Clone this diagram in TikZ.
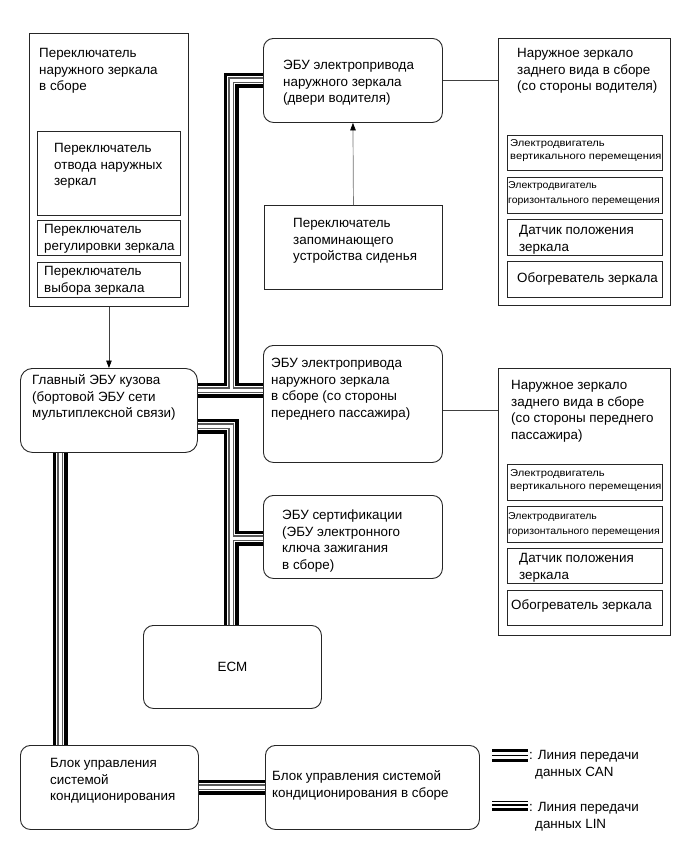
\documentclass[tikz,border=0pt]{standalone}
\usepackage{fontspec}
\setmainfont{Liberation Sans}
\newfontfamily\smallwide[FakeStretch=1.12]{Liberation Sans}
\newfontfamily\smallwideb[FakeStretch=1.05]{Liberation Sans}
\usetikzlibrary{arrows.meta,calc}
\tikzset{
  sqbox/.style={draw=black!85, line width=0.9pt, fill=white, anchor=north west, inner sep=0pt},
  rbox/.style={sqbox, rounded corners=10pt},
  txt/.style={anchor=north west, inner sep=0pt, align=left, font=\fontsize{13.4}{16.7}\selectfont},
  stxt/.style={anchor=north west, inner sep=0pt, align=left, font=\smallwide\fontsize{10}{13.5}\selectfont},
  stxtb/.style={anchor=north west, inner sep=0pt, align=left, font=\smallwideb\fontsize{10}{14.5}\selectfont},
  link/.style={draw=black!75, line width=0.7pt},
  arr/.style={link, -{Triangle[length=7.5pt,width=5.5pt,color=black]}},
  legline/.style={draw=black, line cap=butt}
}
\newcommand\buslayers[1]{%
  \draw[line width=15pt, black, line join=miter] #1;
  \draw[line width=8.5pt, white, line join=miter] #1;
  \draw[line width=5.5pt, black!65, line join=miter] #1;
  \draw[line width=3pt, white, line join=miter] #1;
}
\begin{document}
\begin{tikzpicture}[x=1pt,y=-1pt]
\fill[white] (0,0) rectangle (691,855);
\useasboundingbox (0,0) rectangle (691,855);

% ---------- boxes ----------
\node[sqbox, minimum width=159pt, minimum height=273pt] (outsw) at (29,33) {};
\node[sqbox, minimum width=143pt, minimum height=84pt] (sw1) at (37,131) {};
\node[sqbox, minimum width=143pt, minimum height=35pt] (sw2) at (37,220) {};
\node[sqbox, minimum width=143pt, minimum height=35pt] (sw3) at (37,262) {};

\node[rbox, rounded corners=12pt, minimum width=177pt, minimum height=84pt] (mainecu) at (20,368) {};
\node[rbox, minimum width=179pt, minimum height=84pt] (drvecu) at (263,38) {};
\node[sqbox, minimum width=178pt, minimum height=84pt] (seat) at (264,205) {};

\node[sqbox, minimum width=172pt, minimum height=267pt] (drvmir) at (498,38) {};
\node[sqbox, minimum width=155pt, minimum height=35pt] (dm1) at (507,135) {};
\node[sqbox, minimum width=155pt, minimum height=36pt] (dm2) at (507,177) {};
\node[sqbox, minimum width=155pt, minimum height=36pt] (dm3) at (507,219) {};
\node[sqbox, minimum width=155pt, minimum height=36pt] (dm4) at (507,261) {};

\node[rbox, minimum width=179pt, minimum height=117pt] (passecu) at (263,345) {};
\node[sqbox, minimum width=172pt, minimum height=267pt] (pasmir) at (498,368) {};
\node[sqbox, minimum width=155pt, minimum height=36pt] (pm1) at (507,464) {};
\node[sqbox, minimum width=155pt, minimum height=36pt] (pm2) at (507,506) {};
\node[sqbox, minimum width=155pt, minimum height=35pt] (pm3) at (507,548) {};
\node[sqbox, minimum width=155pt, minimum height=35pt] (pm4) at (507,590) {};

\node[rbox, minimum width=179pt, minimum height=83pt] (certecu) at (263,495) {};
\node[rbox, minimum width=178pt, minimum height=83pt, font=\fontsize{13.4}{16.7}\selectfont] (ecm) at (143,625) {ECM};
\node[rbox, minimum width=178pt, minimum height=84pt] (acblk) at (20,745) {};
\node[rbox, minimum width=214pt, minimum height=84pt] (acasm) at (265,745) {};

% ---------- bus cables ----------
\coordinate (j1) at (231,390);
\coordinate (j1t) at (231,80);
\coordinate (j2) at (231,426);
\coordinate (j3) at (231,538);
\coordinate (kx) at (60,0);
\coordinate (ky) at (0,787);

\buslayers{(mainecu.east |- j1) -- (j1) -- (j1t) -- (drvecu.west |- j1t) (j1) -- (passecu.west |- j1)}
\buslayers{(mainecu.east |- j2) -- (j2) -- (j2 |- ecm.north) (j3) -- (certecu.west |- j3)}
\buslayers{(mainecu.south -| kx) -- (acblk.north -| kx)}
\buslayers{(acblk.east |- ky) -- (acasm.west |- ky)}

% ---------- plain links ----------
\coordinate (p1) at (0,410);
\draw[arr] (outsw.south) -- (mainecu.north);
\draw[arr, draw=black!55] (seat.north) -- (drvecu.south);
\draw[link] (drvecu.east) -- (drvmir.west |- drvecu.east);
\draw[link] (passecu.east |- p1) -- (pasmir.west |- p1);

% ---------- texts ----------
\node[txt] (t-outsw) at (39,45.5) {\strut Переключатель\\наружного зеркала\\в сборе};
\node[txt] (t-sw1) at (54,140.5) {\strut Переключатель\\отвода наружных\\зеркал};
\node[txt] (t-sw2) at (44,222) {\strut Переключатель\\регулировки зеркала};
\node[txt] (t-sw3) at (44,264) {\strut Переключатель\\выбора зеркала};

\node[txt] (t-main) at (32,372.5) {\strut Главный ЭБУ кузова\\(бортовой ЭБУ сети\\мультиплексной связи)};
\node[txt] (t-drv) at (283,57.5) {\strut ЭБУ электропривода\\наружного зеркала\\(двери водителя)};
\node[txt] (t-seat) at (293,215.5) {\strut Переключатель\\запоминающего\\устройства сиденья};

\node[txt] (t-dm) at (517,45.5) {\strut Наружное зеркало\\заднего вида в сборе\\(со стороны водителя)};
\node[stxt] (t-dm1) at (510,136.5) {\strut Электродвигатель\\вертикального перемещения};
\node[stxtb] (t-dm2) at (508,178.5) {\strut Электродвигатель\\горизонтального перемещения};
\node[txt] (t-dm3) at (519,222.5) {\strut Датчик положения\\зеркала};
\node[txt] (t-dm4) at (517,270.5) {\strut Обогреватель зеркала};

\node[txt] (t-pe) at (271,355.5) {\strut ЭБУ электропривода\\наружного зеркала\\в сборе (со стороны\\переднего пассажира)};
\node[txt] (t-pm) at (511,377.5) {\strut Наружное зеркало\\заднего вида в сборе\\(со стороны переднего\\пассажира)};
\node[stxt] (t-pm1) at (510,466.5) {\strut Электродвигатель\\вертикального перемещения};
\node[stxtb] (t-pm2) at (508,509.5) {\strut Электродвигатель\\горизонтального перемещения};
\node[txt] (t-pm3) at (519,550.5) {\strut Датчик положения\\зеркала};
\node[txt] (t-pm4) at (511,597.5) {\strut Обогреватель зеркала};

\node[txt] (t-cert) at (282,507.5) {\strut ЭБУ сертификации\\(ЭБУ электронного\\ключа зажигания\\в сборе)};
\node[txt] (t-ac) at (50,755.5) {\strut Блок управления\\системой\\кондиционирования};
\node[txt] (t-acasm) at (272,768.5) {\strut Блок управления системой\\кондиционирования в сборе};

% ---------- legend ----------
\draw[legline, line width=3pt] (492,750.5) -- (528,750.5);
\draw[legline, line width=1pt] (492,755.5) -- (528,755.5);
\draw[legline, line width=3pt] (492,760.5) -- (528,760.5);
\draw[legline, line width=1pt] (492,801.5) -- (528,801.5);
\draw[legline, line width=2pt] (492,805) -- (528,805);
\draw[legline, line width=3pt] (492,809) -- (528,809);
\node[txt] (t-can) at (529,747.5) {\strut : Линия передачи\\\hspace*{6pt}данных CAN};
\node[txt] (t-lin) at (529,799.5) {\strut : Линия передачи\\\hspace*{6pt}данных LIN};
\end{tikzpicture}
\end{document}
